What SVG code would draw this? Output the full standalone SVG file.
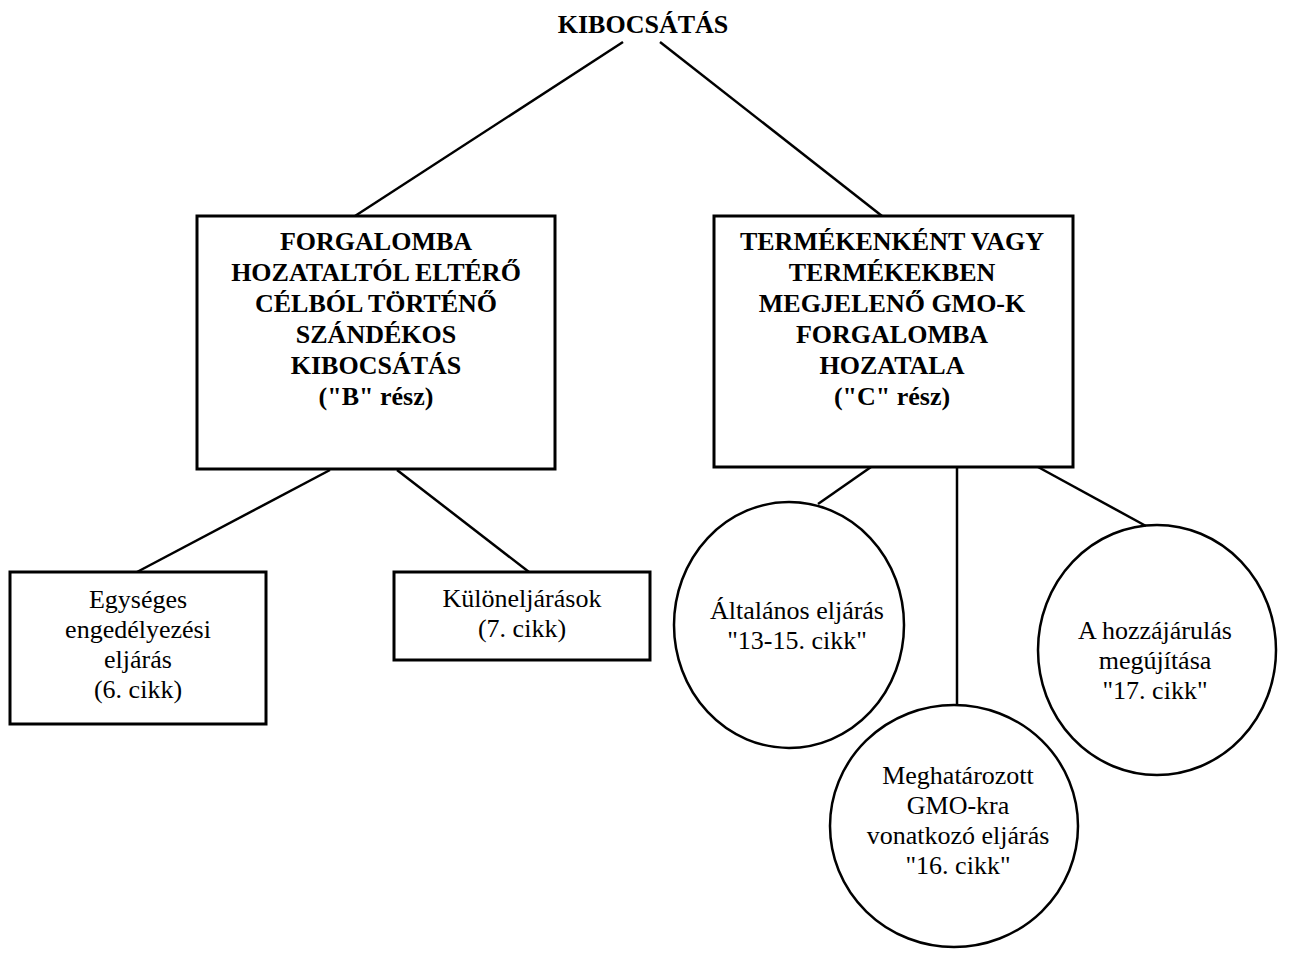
<svg xmlns="http://www.w3.org/2000/svg" width="1290" height="954" viewBox="0 0 1290 954">
<style>
.b{font-family:"Liberation Serif","Times New Roman",serif;font-weight:bold;font-size:26px;text-anchor:middle;fill:#000}
.r{font-family:"Liberation Serif","Times New Roman",serif;font-size:26px;text-anchor:middle;fill:#000}
.s{fill:#fff;stroke:#000;stroke-width:3}
.e{fill:none;stroke:#000;stroke-width:2.5}
.c{stroke:#000;stroke-width:2.5;fill:none}
</style>
<rect width="1290" height="954" fill="#fff"/>
<g id="connectors">
<line class="c" x1="623" y1="42" x2="355" y2="216"/>
<line class="c" x1="660" y1="42" x2="882" y2="216"/>
<line class="c" x1="330" y1="470" x2="137" y2="572"/>
<line class="c" x1="397" y1="470" x2="529" y2="572"/>
<line class="c" x1="871" y1="467" x2="818" y2="504"/>
<line class="c" x1="957" y1="467" x2="957" y2="705"/>
<line class="c" x1="1038" y1="467" x2="1146" y2="526"/>
</g>
<g id="root"><text class="b" x="643" y="33">KIBOCSÁTÁS</text></g>
<g id="partB">
<rect class="s" x="197" y="216" width="358" height="253"/>
<text class="b" x="376" y="250">FORGALOMBA</text>
<text class="b" x="376" y="281">HOZATALTÓL ELTÉRŐ</text>
<text class="b" x="376" y="312">CÉLBÓL TÖRTÉNŐ</text>
<text class="b" x="376" y="343">SZÁNDÉKOS</text>
<text class="b" x="376" y="374">KIBOCSÁTÁS</text>
<text class="b" x="376" y="405">("B" rész)</text>
</g>
<g id="partC">
<rect class="s" x="714" y="216" width="359" height="251"/>
<text class="b" x="892" y="250">TERMÉKENKÉNT VAGY</text>
<text class="b" x="892" y="281">TERMÉKEKBEN</text>
<text class="b" x="892" y="312">MEGJELENŐ GMO-K</text>
<text class="b" x="892" y="343">FORGALOMBA</text>
<text class="b" x="892" y="374">HOZATALA</text>
<text class="b" x="892" y="405">("C" rész)</text>
</g>
<g id="egyseges">
<rect class="s" x="10" y="572" width="256" height="152"/>
<text class="r" x="138" y="608">Egységes</text>
<text class="r" x="138" y="638">engedélyezési</text>
<text class="r" x="138" y="668">eljárás</text>
<text class="r" x="138" y="698">(6. cikk)</text>
</g>
<g id="kulon">
<rect class="s" x="394" y="572" width="256" height="88"/>
<text class="r" x="522" y="607">Különeljárások</text>
<text class="r" x="522" y="637">(7. cikk)</text>
</g>
<g id="altalanos">
<ellipse class="e" cx="789" cy="625" rx="115" ry="123"/>
<text class="r" x="797" y="619">Általános eljárás</text>
<text class="r" x="797" y="649">"13-15. cikk"</text>
</g>
<g id="megujitas">
<ellipse class="e" cx="1157" cy="650" rx="119" ry="125"/>
<text class="r" x="1155" y="639">A hozzájárulás</text>
<text class="r" x="1155" y="669">megújítása</text>
<text class="r" x="1155" y="699">"17. cikk"</text>
</g>
<g id="meghatarozott">
<ellipse class="e" cx="954" cy="826" rx="124" ry="121"/>
<text class="r" x="958" y="784">Meghatározott</text>
<text class="r" x="958" y="814">GMO-kra</text>
<text class="r" x="958" y="844">vonatkozó eljárás</text>
<text class="r" x="958" y="874">"16. cikk"</text>
</g>
</svg>
